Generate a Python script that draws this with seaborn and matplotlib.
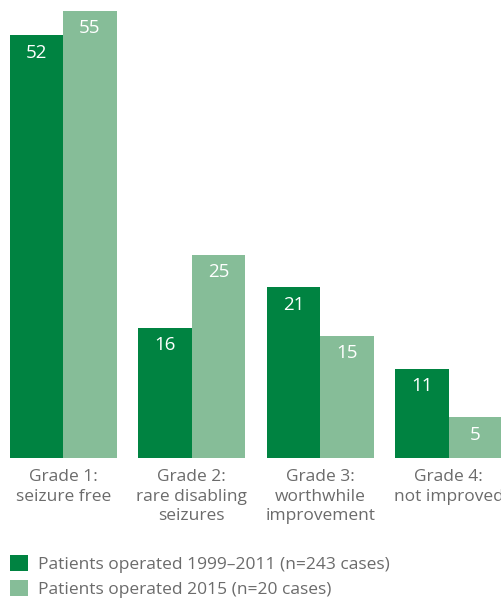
import pandas as pd
import seaborn as sns
import matplotlib.pyplot as plt

categories = ["Grade 1:\nseizure free", "Grade 2:\nrare disabling\nseizures",
              "Grade 3:\nworthwhile\nimprovement", "Grade 4:\nnot improved"]
series = ["Patients operated 1999\u20132011 (n=243 cases)",
          "Patients operated 2015 (n=20 cases)"]
vals_1999 = [52, 16, 21, 11]
vals_2015 = [55, 25, 15, 5]
colors = ["#008341", "#86bd98"]
grey = "#6b6b6b"

df = pd.DataFrame({
    "grade": categories * 2,
    "group": [series[0]] * 4 + [series[1]] * 4,
    "pct": vals_1999 + vals_2015,
})

sns.set_style("white")
plt.rcParams['font.family'] = ['Open Sans', 'DejaVu Sans']

fig = plt.figure(figsize=(5.02, 6.02), dpi=100)
ax = fig.add_axes([0, 144 / 602, 1, 458 / 602])

sns.barplot(data=df, x="grade", y="pct", hue="group", palette=colors,
            width=0.83, gap=0, saturation=1, linewidth=0, ax=ax, legend=True)

ax.set_xlim(-0.492, 3.415)
ax.set_ylim(0, 56.35)
for c in ax.containers:
    ax.bar_label(c, label_type="edge", padding=-19, color="white", fontsize=13.5)

sns.despine(ax=ax, left=True, bottom=True)
ax.set_yticks([])
ax.set_xlabel("")
ax.set_ylabel("")
ax.tick_params(axis="x", length=0, pad=8, labelsize=12.5, labelcolor=grey)
for t in ax.get_xticklabels():
    t.set_linespacing(1.3)

handles, labels = ax.get_legend_handles_labels()
ax.get_legend().remove()
fig.legend(handles, labels, loc="upper left", bbox_to_anchor=(10 / 502, 1 - 555 / 602),
           frameon=False, fontsize=12.5, labelcolor=grey, handlelength=1.05,
           handleheight=1.05, handletextpad=0.55, labelspacing=0.4,
           borderaxespad=0, borderpad=0)

fig.savefig("out.png", dpi=100)
